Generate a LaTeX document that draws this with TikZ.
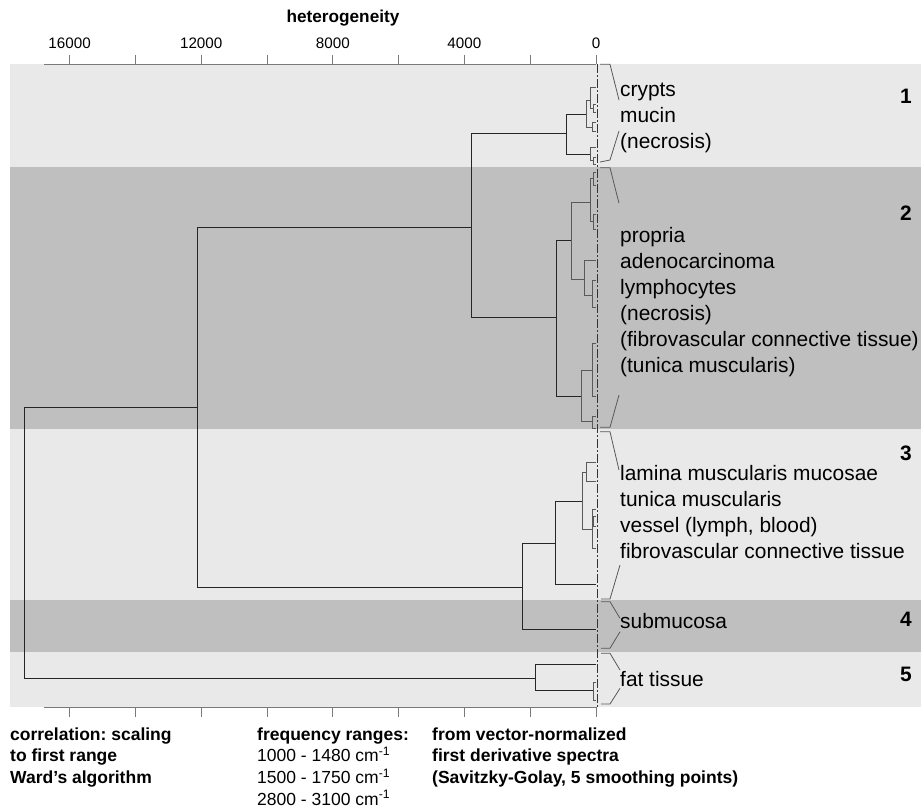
\documentclass[tikz,border=0pt]{standalone}
\usepackage{fontspec}
\setmainfont{Liberation Sans}
\frenchspacing
\definecolor{bandlight}{HTML}{E9E9E9}
\definecolor{banddark}{HTML}{BFBFBF}
\definecolor{treeline}{HTML}{262626}
\definecolor{axisgray}{HTML}{7A7A7A}
\tikzset{
  lbl/.style={anchor=base west,inner sep=0pt,font=\fontsize{20.9}{26}\selectfont},
  grp/.style={anchor=base east,inner sep=0pt,font=\fontsize{20.9}{26}\selectfont\bfseries},
  ticklbl/.style={anchor=base,inner sep=0pt,font=\fontsize{15.2}{18}\selectfont},
  axtitle/.style={anchor=base,inner sep=0pt,font=\fontsize{17.2}{20}\selectfont\bfseries},
  note/.style={anchor=base west,inner sep=0pt,font=\fontsize{17.5}{21.7}\selectfont\bfseries},
  freq/.style={anchor=base west,inner sep=0pt,font=\fontsize{17.5}{21.7}\selectfont},
  tree/.style={treeline,line width=0.9pt},
  twig/.style={black!65,line width=0.8pt},
  brace/.style={black!65,line width=0.8pt},
  zeroline/.style={black!80,line width=0.8pt,dash pattern=on 9pt off 2pt on 2pt off 2pt},
}
\begin{document}
\begin{tikzpicture}[x=1pt,y=-1pt]
\useasboundingbox (0,0) rectangle (921,807);
% bands of the five groups
\fill[bandlight] (10,64) rectangle (921,166.7);
\fill[banddark] (10,166.7) rectangle (921,429.3);
\fill[bandlight] (10,429.3) rectangle (921,600);
\fill[banddark] (10,600) rectangle (921,652);
\fill[bandlight] (10,652) rectangle (921,707);
% axes
\draw[axisgray,line width=0.9pt] (44,64) -- (596,64);
\draw[axisgray,line width=0.9pt] (44,707) -- (596,707);
\foreach \k in {0,...,8}{
  \draw[axisgray,line width=0.9pt] ({596-65.8*\k},64) -- ++(0,-9);
  \draw[axisgray,line width=0.9pt] ({596-65.8*\k},707) -- ++(0,10);
}
\foreach \k/\v in {0/0,2/4000,4/8000,6/12000,8/16000}
  \node[ticklbl] (tick\v) at ({596-65.8*\k},48) {\v};
\node[axtitle] (axname) at (343,22) {heterogeneity};
% main tree
\draw[tree] (197.3,407.3) -- (24.7,407.3) -- (24.7,678.7) -- (535.4,678.7);
\draw[tree] (471.3,227.3) -- (197.3,227.3) -- (197.3,587.3) -- (522,587.3);
\draw[tree] (566.7,133.7) -- (471.3,133.7) -- (471.3,317.7) -- (556.7,317.7);
\draw[tree] (555.6,543.3) -- (522,543.3) -- (522,629.3) -- (596,629.3);
% group 1
\draw[tree] (586.7,114) -- (566.7,114) -- (566.7,154) -- (590.7,154);
\draw[twig] (590.7,100) -- (586.7,100) -- (586.7,127.3) -- (592.7,127.3);
\draw[twig] (596,87.7) -- (590.7,87.7) -- (590.7,108.3) -- (593.5,108.3);
\draw[twig] (596,104) -- (593.5,104) -- (593.5,112) -- (596,112);
\draw[twig] (596,122.7) -- (592.7,122.7) -- (592.7,131.7) -- (596,131.7);
\draw[twig] (596,147.3) -- (590.7,147.3) -- (590.7,160.7) -- (593.5,160.7);
\draw[twig] (596,157) -- (593.5,157) -- (593.5,164) -- (596,164);
% group 2
\draw[tree] (571.7,240.7) -- (556.7,240.7) -- (556.7,396.7) -- (581.7,396.7);
\draw[twig] (590,202.3) -- (571.7,202.3) -- (571.7,279) -- (584.3,279);
\draw[twig] (593,178.5) -- (590,178.5) -- (590,221.7) -- (593,221.7);
\draw[twig] (596,172) -- (593,172) -- (593,185) -- (596,185);
\draw[twig] (596,214) -- (593,214) -- (593,229) -- (596,229);
\draw[twig] (596,260) -- (584.3,260) -- (584.3,295.7) -- (592.7,295.7);
\draw[twig] (596,280.7) -- (592.7,280.7) -- (592.7,307.7) -- (596,307.7);
\draw[twig] (592.7,370.7) -- (581.7,370.7) -- (581.7,421.7) -- (592.7,421.7);
\draw[twig] (596,343.3) -- (592.7,343.3) -- (592.7,396.7) -- (596,396.7);
\draw[twig] (596,416) -- (592.7,416) -- (592.7,428) -- (596,428);
% group 3
\draw[tree] (582.4,501.3) -- (555.6,501.3) -- (555.6,584.7) -- (596,584.7);
\draw[twig] (586.8,472.7) -- (582.4,472.7) -- (582.4,529.3) -- (592,529.3);
\draw[twig] (596,462.7) -- (586.8,462.7) -- (586.8,481.3) -- (596,481.3);
\draw[twig] (596,509.3) -- (592,509.3) -- (592,548.3) -- (596,548.3);
\draw[twig] (596,516.7) -- (593.8,516.7) -- (593.8,526.7) -- (596,526.7);
% group 5
\draw[tree] (596,664.3) -- (535.4,664.3) -- (535.4,690.7) -- (593,690.7);
\draw[twig] (596,682.7) -- (593,682.7) -- (593,700) -- (596,700);
% leaf line at zero
\draw[zeroline] (597.5,64) -- (597.5,707);
% brackets to the labels
\draw[brace] (600,64.3) -- (610,64.3) -- (619,100);
\draw[brace] (619,131) -- (610,160) -- (600,162);
\draw[brace] (600,167.7) -- (610,167.7) -- (619,203.3);
\draw[brace] (619,395) -- (610,427.3) -- (600,427.3);
\draw[brace] (600,431.7) -- (610,431.7) -- (619,470);
\draw[brace] (620,565) -- (610,599) -- (601,599);
\draw[brace] (601,601.7) -- (610,601.7) -- (620,618.3);
\draw[brace] (620,631.7) -- (610,648.3) -- (601,648.3);
\draw[brace] (601,653.3) -- (610,653.3) -- (620,670);
\draw[brace] (620,688.3) -- (610,704) -- (601,704);
% labels
\node[lbl] (crypts) at (620,96.5) {crypts};
\node[lbl] (mucin) at (620,122.5) {mucin};
\node[lbl] (necrA) at (620,148.5) {(necrosis)};
\node[lbl] (propria) at (620,242.3) {propria};
\node[lbl] (adeno) at (620,268.3) {adenocarcinoma};
\node[lbl] (lympho) at (620,294.3) {lymphocytes};
\node[lbl] (necrB) at (620,320.3) {(necrosis)};
\node[lbl] (fibroB) at (620,346.3) {(fibrovascular connective tissue)};
\node[lbl] (tunicaB) at (620,372.3) {(tunica muscularis)};
\node[lbl] (lamina) at (620,480) {lamina muscularis mucosae};
\node[lbl] (tunica) at (620,506) {tunica muscularis};
\node[lbl] (vessel) at (620,532) {vessel (lymph, blood)};
\node[lbl] (fibro) at (620,558) {fibrovascular connective tissue};
\node[lbl] (submuc) at (620,628.3) {submucosa};
\node[lbl] (fat) at (620,686.7) {fat tissue};
% group numbers
\node[grp] (g1) at (912,103.3) {1};
\node[grp] (g2) at (912,220) {2};
\node[grp] (g3) at (912,460) {3};
\node[grp] (g4) at (912,626) {4};
\node[grp] (g5) at (912,681.7) {5};
% notes below
\node[note] (corr) at (10,740) {correlation: scaling};
\node[note] (firstr) at (10,761.7) {to first range};
\node[note] (ward) at (10,783.3) {Ward's algorithm};
\node[note] (franges) at (257,740) {frequency ranges:};
\node[freq] (rangeA) at (257,761.7) {1000 - 1480 cm\textsuperscript{-1}};
\node[freq] (rangeB) at (257,783.3) {1500 - 1750 cm\textsuperscript{-1}};
\node[freq] (rangeC) at (257,805) {2800 - 3100 cm\textsuperscript{-1}};
\node[note] (vecnorm) at (432,740) {from vector-normalized};
\node[note] (deriv) at (432,761.7) {first derivative spectra};
\node[note] (savgol) at (432,783.3) {(Savitzky-Golay, 5 smoothing points)};
\end{tikzpicture}
\end{document}
